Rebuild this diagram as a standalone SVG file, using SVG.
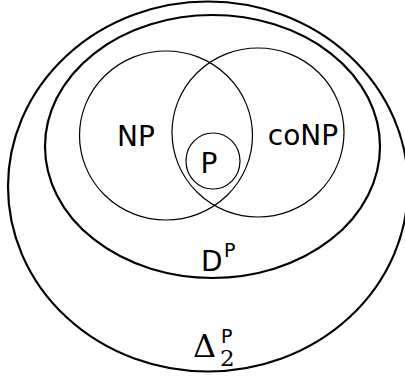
<svg xmlns="http://www.w3.org/2000/svg" width="405" height="377" viewBox="0 0 405 377">
<style>
.thick{fill:none;stroke:#000;stroke-width:2.2}
.thin{fill:none;stroke:#000;stroke-width:1.2}
.lbl{font-family:"DejaVu Sans",sans-serif;font-size:28px;fill:#000}
.sup{font-family:"DejaVu Sans",sans-serif;font-size:19px;fill:#000}
.ser{font-family:"DejaVu Serif","Liberation Serif",serif;fill:#000}
</style>
<rect width="405" height="377" fill="#fff"/>
<g id="delta2p">
<ellipse class="thick" cx="208" cy="186.5" rx="200" ry="185" stroke-width="2.5"/>
<text class="ser" x="193" y="357" font-size="32">Δ</text>
<text class="sup" x="221" y="343">P</text>
<text class="ser" x="220" y="366" font-size="23">2</text>
</g>
<g id="dp">
<ellipse class="thick" cx="212.5" cy="146.5" rx="167.5" ry="131.5"/>
<text class="lbl" x="201" y="271">D</text>
<text class="sup" x="224" y="257">P</text>
</g>
<g id="np">
<ellipse class="thin" cx="166" cy="135.5" rx="86.5" ry="84.5"/>
<text class="lbl" x="136" y="146" text-anchor="middle">NP</text>
</g>
<g id="conp">
<ellipse class="thin" cx="258" cy="132.5" rx="86" ry="84.5"/>
<text class="lbl" x="303" y="145" text-anchor="middle">coNP</text>
</g>
<g id="p">
<ellipse class="thin" cx="213" cy="161" rx="27" ry="28"/>
<text class="lbl" x="209" y="173" text-anchor="middle">P</text>
</g>
<g id="connectors"/>
</svg>
